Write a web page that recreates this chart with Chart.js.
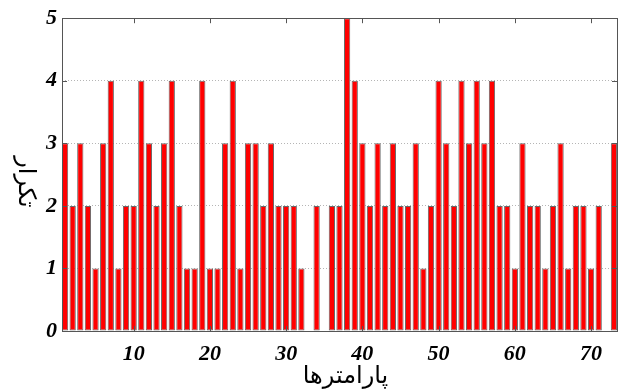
<!DOCTYPE html>
<html>
<head>
<meta charset="utf-8">
<script src="https://cdn.jsdelivr.net/npm/chart.js@4.4.1/dist/chart.umd.min.js"></script>
<style>
  html, body { margin: 0; padding: 0; background: #fff; }
</style>
</head>
<body>
<canvas id="chart" width="619" height="391"></canvas>
<script>
// parameter index and how often each one shows up
const params = [1, 2, 3, 4, 5, 6, 7, 8, 9, 10, 11, 12, 13, 14, 15, 16, 17, 18, 19, 20,
  21, 22, 23, 24, 25, 26, 27, 28, 29, 30, 31, 32, 33, 34, 35, 36, 37, 38, 39, 40,
  41, 42, 43, 44, 45, 46, 47, 48, 49, 50, 51, 52, 53, 54, 55, 56, 57, 58, 59, 60,
  61, 62, 63, 64, 65, 66, 67, 68, 69, 70, 71, 72, 73];
const counts = [3, 2, 3, 2, 1, 3, 4, 1, 2, 2, 4, 3, 2, 3, 4, 2, 1, 1, 4, 1,
  1, 3, 4, 1, 3, 3, 2, 3, 2, 2, 2, 1, 0, 2, 0, 2, 2, 5, 4, 3,
  2, 3, 2, 3, 2, 2, 3, 1, 2, 4, 3, 2, 4, 3, 4, 3, 4, 2, 2, 1,
  3, 2, 2, 1, 2, 3, 1, 2, 2, 1, 2, 0, 3];
const xTicks = [10, 20, 30, 40, 50, 60, 70];
const yTicks = [0, 1, 2, 3, 4, 5];
const xTitle = 'پارامترها';
const yTitle = 'تکرار';

const tickFont = { family: '"Liberation Serif", "Times New Roman", serif', size: 22, weight: 'bold', style: 'italic' };

// box around the plot, inward tick marks and both axis titles
const framePlugin = {
  id: 'frame',
  afterDatasetsDraw(chart) {
    const { ctx, chartArea: a, scales: { x, y } } = chart;
    ctx.save();
    ctx.strokeStyle = '#555';
    ctx.lineWidth = 1;
    ctx.beginPath();
    xTicks.forEach(v => {
      const px = Math.round(x.getPixelForValue(v)) + 0.5;
      ctx.moveTo(px, a.top); ctx.lineTo(px, a.top + 5);
      ctx.moveTo(px, a.bottom); ctx.lineTo(px, a.bottom - 5);
    });
    yTicks.forEach(v => {
      const py = Math.round(y.getPixelForValue(v)) + 0.5;
      ctx.moveTo(a.left, py); ctx.lineTo(a.left + 5, py);
      ctx.moveTo(a.right, py); ctx.lineTo(a.right - 5, py);
    });
    ctx.stroke();
    ctx.strokeRect(Math.round(a.left) + 0.5, Math.round(a.top) + 0.5,
      Math.round(a.width), Math.round(a.height));
    ctx.restore();
  },
  afterDraw(chart) {
    const { ctx, chartArea: a } = chart;
    ctx.save();
    ctx.fillStyle = '#000';
    ctx.font = '24px "DejaVu Sans", sans-serif';
    ctx.textAlign = 'center';
    ctx.textBaseline = 'middle';
    ctx.fillText(xTitle, (a.left + a.right) / 2 + 6, 377);
    ctx.translate(25, 182);
    ctx.rotate(Math.PI / 2);
    ctx.fillText(yTitle, 0, 0);
    ctx.restore();
  }
};

new Chart(document.getElementById('chart'), {
  type: 'bar',
  data: {
    datasets: [{
      data: params.map((p, i) => ({ x: p, y: counts[i] })),
      backgroundColor: '#ff0000',
      borderColor: '#6a6a6a',
      borderWidth: 1,
      borderSkipped: false,
      barPercentage: 0.82,
      categoryPercentage: 1.0
    }]
  },
  options: {
    responsive: false,
    animation: false,
    devicePixelRatio: 1,
    layout: { padding: { top: 17, right: 2, left: 0, bottom: 0 } },
    plugins: { legend: { display: false }, tooltip: { enabled: false } },
    scales: {
      x: {
        type: 'linear',
        min: 0.6,
        max: 73.4,
        offset: false,
        grid: { display: false },
        border: { display: false },
        ticks: { font: tickFont, color: '#000', padding: 2, includeBounds: false, autoSkip: false, maxRotation: 0 },
        afterBuildTicks: s => { s.ticks = xTicks.map(v => ({ value: v })); },
        afterFit: s => { s.height = 60; }
      },
      y: {
        min: 0,
        max: 5,
        grid: {
          drawTicks: false,
          color: c => (c.tick.value > 0 && c.tick.value < 5) ? '#b5b5b5' : 'rgba(0,0,0,0)'
        },
        border: { display: false, dash: [1, 2] },
        ticks: { font: tickFont, color: '#000', padding: 5, stepSize: 1 },
        afterBuildTicks: s => { s.ticks = yTicks.map(v => ({ value: v })); },
        afterFit: s => { s.width = 62; }
      }
    }
  },
  plugins: [framePlugin]
});
</script>
</body>
</html>
